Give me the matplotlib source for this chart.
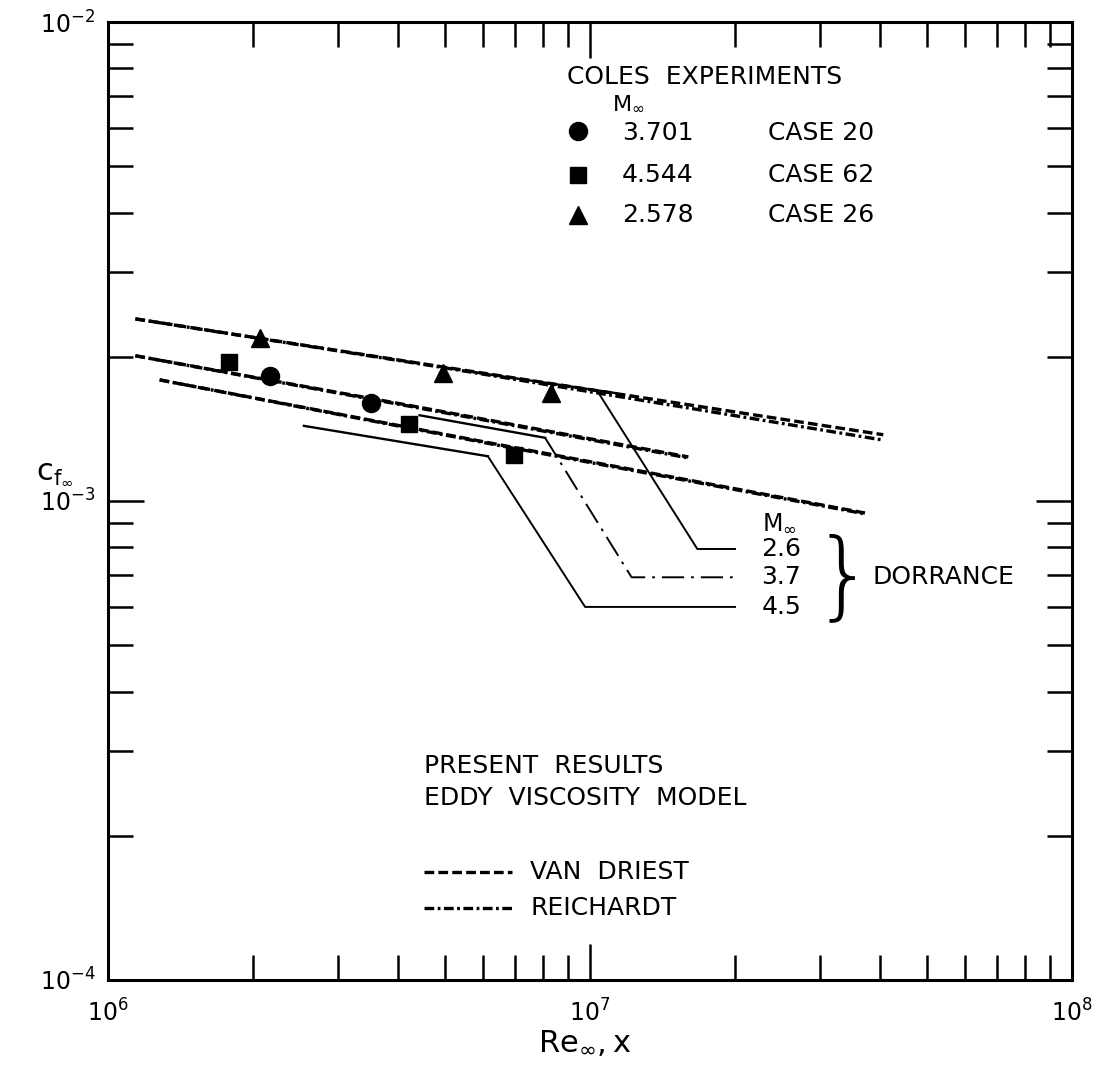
import numpy as np
import matplotlib
matplotlib.use("Agg")
import matplotlib.pyplot as plt
from matplotlib.ticker import LogLocator, NullFormatter

plt.rcParams['lines.scale_dashes'] = False
plt.rcParams['font.family'] = ['DejaVu Sans']

# Coles experiments (Re_x, cf)
case20_re = [2.17e6, 3.51e6]
case20_cf = [1.82e-3, 1.60e-3]
case62_re = [1.78e6, 4.21e6, 6.95e6]
case62_cf = [1.95e-3, 1.45e-3, 1.25e-3]
case26_re = [2.07e6, 4.95e6, 8.3e6]
case26_cf = [2.19e-3, 1.85e-3, 1.68e-3]

# Present results, eddy viscosity model
vd26_re = [1.14e6, 4.95e6, 4.06e7]
vd26_cf = [2.40e-3, 1.905e-3, 1.375e-3]
rh26_re = [1.14e6, 4.95e6, 4.06e7]
rh26_cf = [2.40e-3, 1.90e-3, 1.34e-3]
vd37_re = [1.14e6, 4.04e6, 1.60e7]
vd37_cf = [2.01e-3, 1.596e-3, 1.236e-3]
rh37_re = [1.14e6, 4.04e6, 1.60e7]
rh37_cf = [2.01e-3, 1.59e-3, 1.23e-3]
vd45_re = [1.28e6, 6.50e6, 3.72e7]
vd45_cf = [1.79e-3, 1.31e-3, 9.44e-4]
rh45_re = [1.28e6, 6.50e6, 3.72e7]
rh45_cf = [1.79e-3, 1.305e-3, 9.40e-4]

# Dorrance
dor26_re = [5.69e6, 1.13e7]
dor26_cf = [1.86e-3, 1.68e-3]
dor37_re = [4.43e6, 8.07e6]
dor37_cf = [1.51e-3, 1.355e-3]
dor45_re = [2.55e6, 6.14e6]
dor45_cf = [1.435e-3, 1.24e-3]

fig = plt.figure(figsize=(11.04, 10.68), dpi=100)
ax = fig.add_axes([0.0978, 0.0824, 0.8732, 0.8970])
ax.set_xscale('log')
ax.set_yscale('log')
ax.set_xlim(1e6, 1e8)
ax.set_ylim(1e-4, 1e-2)

lw = 2.4
dash = (0, (7, 3))
dashdot = (0, (7, 2.5, 2, 2.5))
k = 'black'

for re, cf in [(vd26_re, vd26_cf), (vd37_re, vd37_cf), (vd45_re, vd45_cf)]:
    ax.plot(re, cf, color=k, lw=lw, linestyle=dash)
for re, cf in [(rh26_re, rh26_cf), (rh37_re, rh37_cf), (rh45_re, rh45_cf)]:
    ax.plot(re, cf, color=k, lw=lw, linestyle=dashdot)

for re, cf in [(dor26_re, dor26_cf), (dor37_re, dor37_cf), (dor45_re, dor45_cf)]:
    ax.plot(re, cf, color=k, lw=1.7, linestyle='-')

# leader lines from the Dorrance curves to their labels
ax.plot([1.05e7, 1.67e7, 2.0e7], [1.66e-3, 7.94e-4, 7.94e-4], color=k, lw=1.4)
ax.plot([8.07e6, 1.22e7, 2.0e7], [1.355e-3, 6.93e-4, 6.93e-4], color=k, lw=1.4,
        linestyle=(0, (16, 5, 2, 5)))
ax.plot([6.14e6, 9.77e6, 2.0e7], [1.24e-3, 6.01e-4, 6.01e-4], color=k, lw=1.4)

ax.plot(case20_re, case20_cf, 'o', color=k, ms=13, zorder=5)
ax.plot(case62_re, case62_cf, 's', color=k, ms=12, zorder=5)
ax.plot(case26_re, case26_cf, '^', color=k, ms=13, zorder=5)

# axes styling
for s in ax.spines.values():
    s.set_linewidth(2.2)
ax.xaxis.set_major_locator(LogLocator(base=10, numticks=5))
ax.yaxis.set_major_locator(LogLocator(base=10, numticks=5))
ax.xaxis.set_minor_locator(LogLocator(base=10, subs=np.arange(2, 10), numticks=20))
ax.yaxis.set_minor_locator(LogLocator(base=10, subs=np.arange(2, 10), numticks=20))
ax.xaxis.set_minor_formatter(NullFormatter())
ax.yaxis.set_minor_formatter(NullFormatter())
ax.tick_params(which='both', direction='in', top=True, right=True, color=k)
ax.tick_params(which='major', length=26, width=1.8, labelsize=17, pad=9)
ax.tick_params(axis='x', which='major', pad=14)
ax.tick_params(which='minor', length=18, width=1.8)

ax.set_xlabel(r'$\mathregular{Re_{\infty},x}$', fontsize=22)
ax.xaxis.set_label_coords(0.495, -0.05)
ax.set_ylabel(r'$\mathregular{c_{f_{\infty}}}$', fontsize=22, rotation=0)
ax.yaxis.set_label_coords(-0.055, 0.515)

fs = 18
T = ax.transAxes
mach = r'$\mathregular{M_{\infty}}$'

ax.text(0.476, 0.943, 'COLES  EXPERIMENTS', transform=T, fontsize=fs, va='center')
ax.text(0.523, 0.926, mach, transform=T, fontsize=16, va='top')
ax.plot([0.4876], [0.886], 'o', color=k, ms=13, transform=T, clip_on=False)
ax.plot([0.4876], [0.840], 's', color=k, ms=12, transform=T, clip_on=False)
ax.plot([0.4876], [0.799], '^', color=k, ms=13, transform=T, clip_on=False)
for y, m, c in [(0.884, '3.701', 'CASE 20'), (0.840, '4.544', 'CASE 62'),
                (0.799, '2.578', 'CASE 26')]:
    ax.text(0.533, y, m, transform=T, fontsize=fs, va='center')
    ax.text(0.685, y, c, transform=T, fontsize=fs, va='center')

ax.text(0.678, 0.490, mach, transform=T, fontsize=17, va='top')
for y, m in [(0.450, '2.6'), (0.421, '3.7'), (0.389, '4.5')]:
    ax.text(0.678, y, m, transform=T, fontsize=fs, va='center')
ax.text(0.763, 0.418, '}', transform=T, fontsize=70, va='center', ha='center',
        fontweight='light', family='DejaVu Sans')
ax.text(0.793, 0.421, 'DORRANCE', transform=T, fontsize=fs, va='center')

ax.text(0.328, 0.223, 'PRESENT  RESULTS', transform=T, fontsize=fs, va='center')
ax.text(0.328, 0.190, 'EDDY  VISCOSITY  MODEL', transform=T, fontsize=fs, va='center')
ax.plot([0.328, 0.419], [0.113, 0.113], color=k, lw=lw, linestyle=dash, transform=T)
ax.plot([0.328, 0.419], [0.075, 0.075], color=k, lw=lw, linestyle=dashdot, transform=T)
ax.text(0.438, 0.113, 'VAN  DRIEST', transform=T, fontsize=fs, va='center')
ax.text(0.438, 0.075, 'REICHARDT', transform=T, fontsize=fs, va='center')

fig.savefig('out.png', dpi=100, facecolor='white')
